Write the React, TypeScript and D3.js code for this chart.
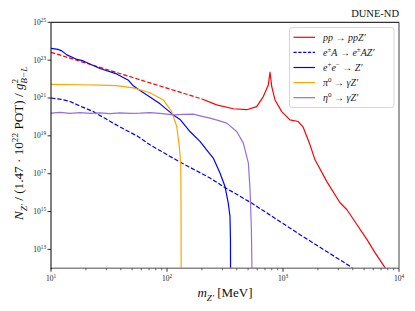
import React from 'react';
import * as d3 from 'd3';

const W = 415;
const H = 311;
const margin = { left: 51, right: 16, top: 22.3, bottom: 42.7 };

type Pt = [number, number]; // [m_Z' in MeV, N_Z']

// pp -> ppZ' (dashed at low mass, solid above)
const ppDashed: Pt[] = [[10, 2.6e23], [50, 1.24e22], [100, 3.3e21], [200, 8.9e20]];
const ppSolid: Pt[] = [
  [200, 8.9e20], [268, 4.3e20], [373, 2.7e20], [487, 2.4e20], [593, 3.5e20], [676, 1.19e21],
  [747, 4.9e21], [773, 2.3e22], [800, 4.0e21], [853, 7.9e20], [975, 1.9e20], [1148, 7.0e19],
  [1355, 5.7e19], [1487, 3.0e19], [1709, 3.35e18], [1888, 5.4e17], [2394, 3.7e16], [3100, 2.9e15],
  [3561, 1.24e15], [4348, 2.0e14], [5300, 3.3e13], [6210, 6.7e12], [7650, 1e12],
];
// e±A -> e±AZ'
const brems: Pt[] = [
  [10, 1.0e21], [12.4, 8.4e20], [14.6, 6.5e20], [18.5, 3.4e20], [23.2, 1.9e20], [39.4, 2.9e19],
  [55.1, 1.0e19], [71.3, 3.35e18], [129.5, 4.1e17], [235, 5.9e16], [305, 2.1e16], [537, 2.8e15],
  [1403, 6.0e13], [3954, 1.08e12],
];
// e+e- -> Z'
const annih: Pt[] = [
  [10, 4.2e23], [11.5, 3.7e23], [12.4, 3.1e23], [13.7, 1.9e23], [16.8, 1.09e23], [19.0, 9.1e22],
  [26.4, 3.6e22], [36.8, 1.87e22], [46.1, 9.0e21], [51.2, 4.4e21], [58.5, 2.5e21], [71.3, 1.14e21],
  [87.1, 4.9e20], [113.3, 1.28e20], [129.5, 7.4e19], [157.8, 1.69e19], [192.4, 5.1e18],
  [219.6, 1.8e18], [250.4, 6.7e17], [286.3, 1.08e17], [316.2, 2.1e16], [337.4, 2.8e15],
  [349.1, 5.5e14], [352.4, 3.3e13], [353, 1e12],
];
// pi0 -> gamma Z'
const pion: Pt[] = [
  [10, 5.3e21], [17.8, 5.0e21], [26.4, 4.8e21], [36.8, 4.5e21], [51.2, 3.4e21], [71.3, 1.9e21],
  [92.9, 7.9e20], [109.8, 1.9e20], [121.3, 3.1e19], [127.7, 2.7e18], [131.3, 3.6e17],
  [132.1, 4.2e15], [132.5, 1e12],
];
// eta -> gamma Z'
const eta: Pt[] = [
  [10, 1.58e20], [11.96, 1.74e20], [14.6, 1.54e20], [17.8, 1.68e20], [21.7, 1.54e20],
  [26.4, 1.64e20], [32.3, 1.49e20], [39.4, 1.64e20], [48.0, 1.54e20], [58.5, 1.58e20],
  [71.3, 1.70e20], [87.1, 1.54e20], [113.3, 1.28e20], [137.4, 1.36e20], [168.5, 1.40e20],
  [192.4, 1.14e20], [235, 8.6e19], [275, 6.6e19], [327, 4.7e19], [399, 1.69e19], [455, 4.1e18],
  [503, 3.6e17], [520, 1.4e16], [534, 1.1e14], [540, 1e12],
];

const yTicks = [1e13, 1e15, 1e17, 1e19, 1e21, 1e23, 1e25];
const xTicks = [10, 100, 1000, 10000];

type Seg = { t: string; i?: boolean; sup?: boolean; sub?: boolean; dx?: number };

const legendItems: { color: string; dash?: string; label: Seg[] }[] = [
  { color: '#ff0000', label: [{ t: 'pp', i: true }, { t: ' → ' }, { t: 'ppZ′', i: true }] },
  {
    color: '#0000ff', dash: '3.2,1.6',
    label: [{ t: 'e', i: true }, { t: '±', sup: true }, { t: 'A', i: true }, { t: ' → ' }, { t: 'e', i: true }, { t: '±', sup: true }, { t: 'AZ′', i: true }],
  },
  { color: '#0000ff', label: [{ t: 'e', i: true }, { t: '+', sup: true }, { t: 'e', i: true }, { t: '−', sup: true }, { t: ' → ' }, { t: 'Z′', i: true }] },
  { color: '#ffa500', label: [{ t: 'π', i: true }, { t: '0', sup: true }, { t: ' → ' }, { t: 'γZ′', i: true }] },
  { color: '#9370db', label: [{ t: 'η', i: true }, { t: '0', sup: true }, { t: ' → ' }, { t: 'γZ′', i: true }] },
];

const FONT = '"Liberation Serif", "DejaVu Serif", serif';

function rich(segs: Seg[], fs: number) {
  let cur = 0;
  const out = segs.map((s, k) => {
    const target = s.sup ? -0.4 * fs : s.sub ? 0.28 * fs : 0;
    const dy = target - cur;
    cur = target;
    return (
      <tspan key={k} dy={dy ? dy : undefined} dx={s.dx} fontStyle={s.i ? 'italic' : 'normal'}
        fontSize={s.sup || s.sub ? fs * 0.7 : fs}>{s.t}</tspan>
    );
  });
  return out;
}

export default function App() {
  const x = d3.scaleLog().domain([10, 1e4]).range([margin.left, W - margin.right]);
  const y = d3.scaleLog().domain([1e12, 1e25]).range([H - margin.bottom, margin.top]);
  const line = d3.line<Pt>().x(d => x(d[0])).y(d => y(d[1]));
  const minor = x.ticks().filter(t => !xTicks.includes(t));
  const x0 = margin.left, x1 = W - margin.right, y0 = margin.top, y1 = H - margin.bottom;

  const series: { data: Pt[]; color: string; dash?: string }[] = [
    { data: ppDashed, color: '#ff0000', dash: '4.4,1.9' },
    { data: ppSolid, color: '#ff0000' },
    { data: brems, color: '#0000ff', dash: '4.4,1.9' },
    { data: annih, color: '#0000ff' },
    { data: pion, color: '#ffa500' },
    { data: eta, color: '#9370db' },
  ];

  return (
    <svg width={W} height={H} style={{ position: 'absolute', left: 0, top: 0 }} fontFamily={FONT}>
      <rect width={W} height={H} fill="#fff" />
      <defs>
        <clipPath id="plot"><rect x={x0} y={y0} width={x1 - x0} height={y1 - y0} /></clipPath>
      </defs>
      <g clipPath="url(#plot)">
        {series.map((s, i) => (
          <path key={i} d={line(s.data) || ''} fill="none" stroke={s.color} strokeWidth={1.2}
            strokeDasharray={s.dash} strokeLinejoin="round" />
        ))}
      </g>
      {/* spines */}
      <line x1={x0} y1={y1} x2={x1} y2={y1} stroke="#888" strokeWidth={1.6} />
      <line x1={x1} y1={y0} x2={x1} y2={y1} stroke="#888" strokeWidth={1.6} />
      <line x1={x0} y1={y0} x2={x1} y2={y0} stroke="#000" strokeWidth={1} />
      <line x1={x0} y1={y0} x2={x0} y2={y1 + 1} stroke="#000" strokeWidth={1} />
      {/* y axis */}
      {yTicks.map(t => (
        <g key={t}>
          <line x1={x0 - 3.5} x2={x0} y1={y(t)} y2={y(t)} stroke="#000" strokeWidth={0.8} />
          <text x={x0 - 5} y={y(t) + 2.5} textAnchor="end" fontSize={7.5} fill="#222">
            {rich([{ t: '10' }, { t: String(Math.round(Math.log10(t))), sup: true }], 7.5)}
          </text>
        </g>
      ))}
      {/* x axis */}
      {minor.map(t => (
        <line key={t} x1={x(t)} x2={x(t)} y1={y1} y2={y1 + 2} stroke="#000" strokeWidth={0.6} />
      ))}
      {xTicks.map(t => (
        <g key={t}>
          <line x1={x(t)} x2={x(t)} y1={y1} y2={y1 + 3.5} stroke="#000" strokeWidth={0.8} />
          <text x={x(t)} y={y1 + 12.5} textAnchor="middle" fontSize={7.5} fill="#222">
            {rich([{ t: '10' }, { t: String(Math.round(Math.log10(t))), sup: true }], 7.5)}
          </text>
        </g>
      ))}
      {/* axis labels */}
      <text x={(x0 + x1) / 2} y={297} textAnchor="middle" fontSize={13} fill="#111">
        {rich([{ t: 'm', i: true }, { t: 'Z′', i: true, sub: true }, { t: ' [MeV]' }], 13)}
      </text>
      <text transform={`translate(23,${(y0 + y1) / 2 - 2}) rotate(-90)`} textAnchor="middle" fontSize={13.2} fill="#111">
        {rich([
          { t: 'N', i: true }, { t: 'Z′', i: true, sub: true }, { t: ' / (1.47 · 10' },
          { t: '22', sup: true }, { t: ' POT) / ' }, { t: 'g', i: true }, { t: '2', sup: true },
          { t: 'B−L', i: true, sub: true, dx: -4.8 },
        ], 13.2)}
      </text>
      <text x={x1} y={17} textAnchor="end" fontSize={10.5} fill="#111">DUNE-ND</text>
      {/* legend */}
      <rect x={289.5} y={27.5} width={104.5} height={80} rx={2.5} fill="#fff" fillOpacity={0.8} stroke="#ccc" strokeWidth={0.8} />
      {legendItems.map((it, i) => {
        const ly = 37.3 + i * 15.1;
        return (
          <g key={i}>
            <line x1={293.5} x2={315} y1={ly} y2={ly} stroke={it.color} strokeWidth={1.2} strokeDasharray={it.dash} />
            <text x={323} y={ly + 3.2} fontSize={10} fill="#222">{rich(it.label, 10)}</text>
          </g>
        );
      })}
    </svg>
  );
}
